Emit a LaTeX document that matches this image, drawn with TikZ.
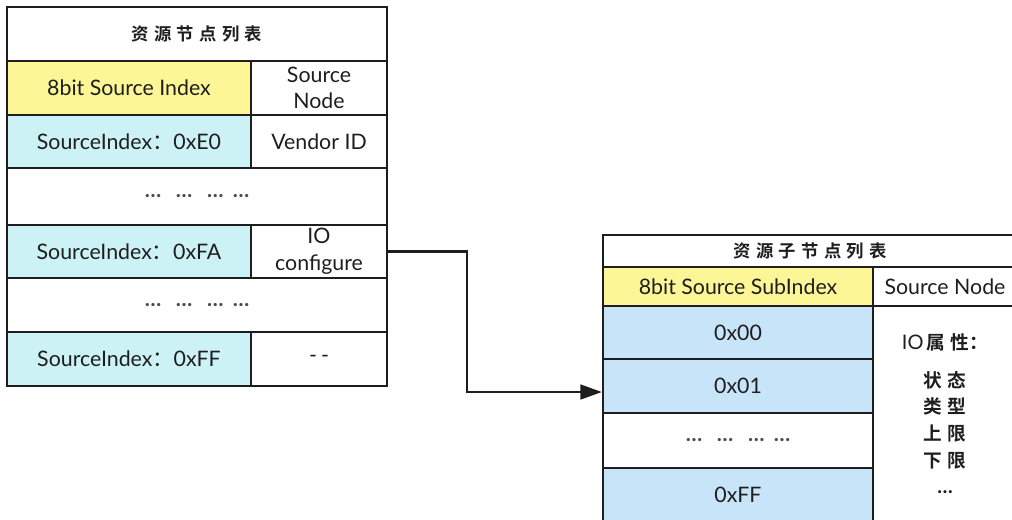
\documentclass[tikz,border=0pt]{standalone}
\usepackage{fontspec}
\setmainfont{Lato}
\newfontfamily\cjk{Noto Sans CJK SC}
\newfontfamily\cjkb{Noto Sans CJK SC Bold}
\usetikzlibrary{arrows.meta}
\definecolor{hdryellow}{RGB}{252,246,150}
\definecolor{cellcyan}{RGB}{204,242,246}
\definecolor{cellblue}{RGB}{200,228,248}
\definecolor{ink}{RGB}{30,30,30}
\newcommand{\dotrow}{\ldots\hspace{11pt}\ldots\hspace{11pt}\ldots\hspace{7pt}\ldots}
\newcommand{\cg}{\hspace{4pt}}
\begin{document}
\begin{tikzpicture}[x=0.75pt,y=-0.75pt,
  cell/.style={draw=ink, line width=1.8pt, inner sep=0pt, align=center, text=ink,
    font=\fontsize{16}{20}\selectfont},
  dotcell/.style={cell, font=\bfseries\fontsize{16}{18}\selectfont, text=ink!80},
  ttl/.style={cell, font=\cjkb\fontsize{13}{15}\selectfont},
  conn/.style={draw=ink, line width=1.8pt, -{Triangle[length=16pt,width=11pt]}}]
\useasboundingbox (0,0) rectangle (1012,519);
\begin{scope}
\clip (0,0) rectangle (1012,519);
% left table
\node[ttl, minimum width=285pt, minimum height=40.5pt] (ltitle) at (197,34) {资\cg 源\cg 节\cg 点\cg 列\cg 表};
\node[cell, fill=hdryellow, minimum width=183pt, minimum height=40.5pt] (lh1) at (129,88) {8bit Source Index};
\node[cell, minimum width=102pt, minimum height=40.5pt] (lh2) at (319,88) {Source\\Node};
\node[cell, fill=cellcyan, minimum width=183pt, minimum height=39.75pt] (le1) at (129,141.5) {SourceIndex{\cjk ：}0xE0};
\node[cell, minimum width=102pt, minimum height=39.75pt] (le2) at (319,141.5) {Vendor ID};
\node[dotcell, minimum width=285pt, minimum height=42.75pt] (ld1) at (197,196.5) {\dotrow};
\node[cell, fill=cellcyan, minimum width=183pt, minimum height=39.75pt] (lf1) at (129,251.5) {SourceIndex{\cjk ：}0xFA};
\node[cell, minimum width=102pt, minimum height=39.75pt] (lf2) at (319,251.5) {IO\\configure};
\node[dotcell, minimum width=285pt, minimum height=40.5pt] (ld2) at (197,305) {\dotrow};
\node[cell, fill=cellcyan, minimum width=183pt, minimum height=40.5pt] (lg1) at (129,359) {SourceIndex{\cjk ：}0xFF};
\node[cell, minimum width=102pt, minimum height=40.5pt] (lg2) at (319,359) {-\hspace{3pt}-};
% connector
\coordinate (bend) at (467,392);
% right table
\node[ttl, minimum width=310.5pt, minimum height=24pt] (rtitle) at (810,251) {资\cg 源\cg 子\cg 节\cg 点\cg 列\cg 表};
\node[cell, fill=hdryellow, minimum width=202.5pt, minimum height=29.25pt] (rh1) at (738,286.5) {8bit Source SubIndex};
\node[cell, minimum width=108pt, minimum height=29.25pt] (rh2) at (945,286.5) {Source Node};
\node[cell, fill=cellblue, minimum width=202.5pt, minimum height=39.75pt] (r00) at (738,332.5) {0x00};
\node[cell, fill=cellblue, minimum width=202.5pt, minimum height=40.5pt] (r01) at (738,386) {0x01};
\node[dotcell, minimum width=202.5pt, minimum height=41.25pt] (rd) at (738,440.5) {\dotrow};
\node[cell, fill=cellblue, minimum width=202.5pt, minimum height=40.5pt] (rff) at (738,495) {0xFF};
\node[cell, minimum width=108pt, minimum height=162pt, font=\fontsize{15}{20}\selectfont] (rbody) at (945,414)
  {IO{\cjkb\fontsize{14}{20}\selectfont\,属\cg 性：}\\[8pt]{\cjkb\fontsize{14}{20}\selectfont 状\cg 态}\\{\cjkb\fontsize{14}{20}\selectfont 类\cg 型}\\{\cjkb\fontsize{14}{20}\selectfont 上\cg 限}\\{\cjkb\fontsize{14}{20}\selectfont 下\cg 限}\\{\bfseries\fontsize{15}{16}\selectfont\ldots}};
\draw[conn] (lf2.east) -| (bend) -- (bend -| r01.west);
\end{scope}
\end{tikzpicture}
\end{document}
